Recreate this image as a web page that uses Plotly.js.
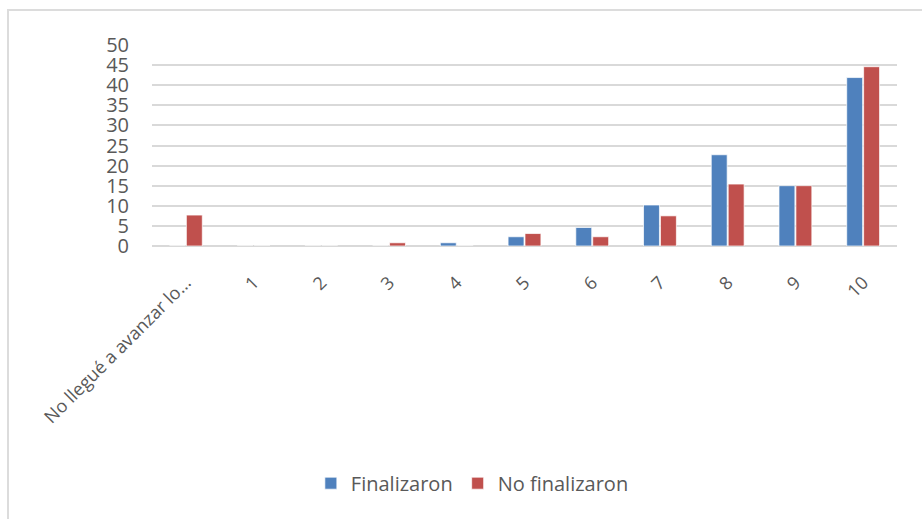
<!DOCTYPE html>
<html>
<head>
<meta charset="utf-8">
<script src="https://cdn.plot.ly/plotly-3.0.1.min.js"></script>
<style>
html,body{margin:0;padding:0;background:#fff;}
#frame{position:absolute;left:7px;top:9px;width:1000px;height:1000px;border-top:2px solid #dcdcdc;border-left:2px solid #dcdcdc;}
#chart{position:absolute;left:0;top:0;width:922px;height:519px;}
</style>
</head>
<body>
<div id="frame"></div>
<div id="chart"></div>
<script>
const categories = ["No llegué a avanzar lo...", "1", "2", "3", "4", "5", "6", "7", "8", "9", "10"];
const finalizaron = [0, 0, 0, 0, 0.8, 2.3, 4.6, 10.2, 22.7, 15.0, 41.9];
const noFinalizaron = [7.7, 0, 0, 0.8, 0, 3.1, 2.3, 7.5, 15.4, 15.0, 44.6];
const yTicks = [0, 5, 10, 15, 20, 25, 30, 35, 40, 45, 50];

const grey = '#595959';
const traces = [
  {type: 'bar', name: 'Finalizaron', x: categories, y: finalizaron,
   marker: {color: '#4F81BD', line: {color: 'rgba(255,255,255,0.7)', width: 1}}},
  {type: 'bar', name: 'No finalizaron', x: categories, y: noFinalizaron,
   marker: {color: '#C0504D', line: {color: 'rgba(255,255,255,0.7)', width: 1}}}
];
const layout = {
  width: 922, height: 519,
  margin: {l: 152, r: 25, t: 45, b: 273},
  paper_bgcolor: 'rgba(0,0,0,0)', plot_bgcolor: 'rgba(0,0,0,0)',
  barmode: 'group', bargap: 0.5, bargroupgap: 0.06,
  font: {family: 'Open Sans, sans-serif', color: grey},
  xaxis: {type: 'category', tickangle: -45, tickfont: {size: 18, color: grey},
          showgrid: false, showline: false, zeroline: false,
          ticks: 'outside', ticklen: 18, tickcolor: 'rgba(0,0,0,0)'},
  yaxis: {range: [0, 50], tickmode: 'array', tickvals: yTicks, ticktext: yTicks.map(String),
          tickfont: {size: 20, color: grey}, gridcolor: '#d9d9d9', gridwidth: 2,
          zeroline: true, zerolinecolor: '#d9d9d9', zerolinewidth: 2,
          ticks: 'outside', ticklen: 18, tickcolor: 'rgba(0,0,0,0)', showline: false},
  legend: {orientation: 'h', x: 0.43, xanchor: 'center', y: -1.18, yanchor: 'middle',
           font: {size: 20, color: grey}, itemwidth: 30, tracegroupgap: 0},
  showlegend: true
};
Plotly.newPlot('chart', traces, layout, {displayModeBar: false, staticPlot: true});
</script>
</body>
</html>
